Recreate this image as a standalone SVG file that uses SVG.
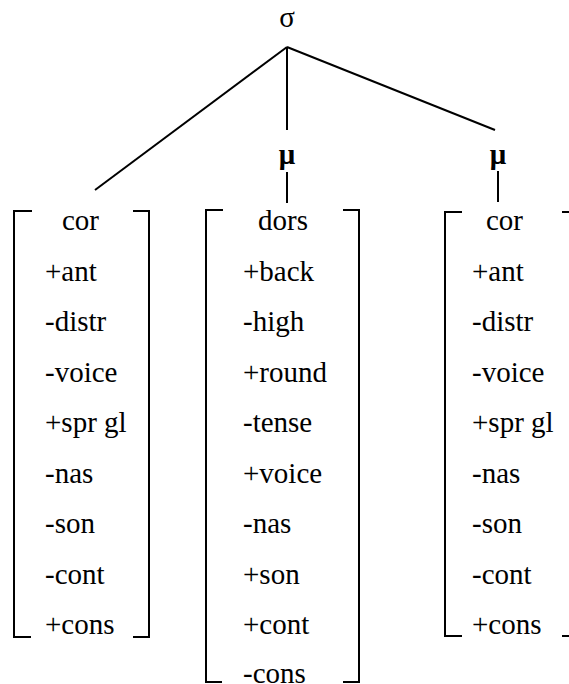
<svg xmlns="http://www.w3.org/2000/svg" width="569" height="684" viewBox="0 0 569 684">
<style>
text{font-family:'Liberation Serif','Times New Roman','DejaVu Serif',serif;font-size:29px;fill:#000}
.b{font-weight:bold}
.br{fill:none;stroke:#000;stroke-width:2}
.ln{stroke:#000;stroke-width:2;fill:none}
</style>
<rect width="569" height="684" fill="#fff"/>
<g id="sigma"><text x="287" y="27" text-anchor="middle">σ</text></g>
<g id="mu1"><text class="b" x="287" y="164" text-anchor="middle">μ</text></g>
<g id="mu2"><text class="b" x="498" y="164" text-anchor="middle">μ</text></g>
<g id="connectors">
<line class="ln" x1="287" y1="47" x2="95" y2="190"/>
<line class="ln" x1="287" y1="47" x2="287" y2="130"/>
<line class="ln" x1="287" y1="47" x2="495" y2="130"/>
<line class="ln" x1="287" y1="172" x2="287" y2="203"/>
<line class="ln" x1="498" y1="171" x2="498" y2="202"/>
</g>
<g id="col1">
<path class="br" d="M32,211H14V637H31M133,211H149V637H133"/>
<text x="62" y="230">cor</text>
<text x="45" y="281">+ant</text>
<text x="45" y="331">-distr</text>
<text x="45" y="382">-voice</text>
<text x="45" y="432">+spr gl</text>
<text x="45" y="483">-nas</text>
<text x="45" y="533">-son</text>
<text x="45" y="584">-cont</text>
<text x="45" y="634">+cons</text>
</g>
<g id="col2">
<path class="br" d="M223,210H206V682H222M343,210H359V682H343"/>
<text x="258" y="230">dors</text>
<text x="243" y="281">+back</text>
<text x="243" y="331">-high</text>
<text x="243" y="382">+round</text>
<text x="243" y="432">-tense</text>
<text x="243" y="483">+voice</text>
<text x="243" y="533">-nas</text>
<text x="243" y="584">+son</text>
<text x="243" y="634">+cont</text>
<text x="243" y="683">-cons</text>
</g>
<g id="col3">
<path class="br" d="M462,212H445V636H462M562,212H575V636H562"/>
<text x="486" y="230">cor</text>
<text x="472" y="281">+ant</text>
<text x="472" y="331">-distr</text>
<text x="472" y="382">-voice</text>
<text x="472" y="432">+spr gl</text>
<text x="472" y="483">-nas</text>
<text x="472" y="533">-son</text>
<text x="472" y="584">-cont</text>
<text x="472" y="634">+cons</text>
</g>
</svg>
